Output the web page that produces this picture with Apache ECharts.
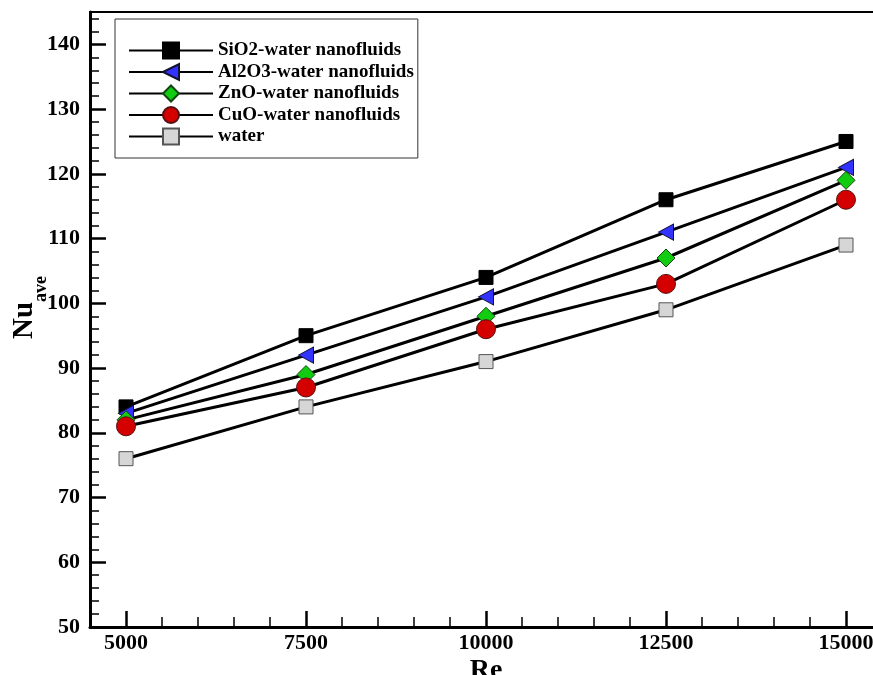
<!DOCTYPE html>
<html lang="en">

<head>
    <meta charset="UTF-8">
    <title>Nu ave vs Re</title>
    <style>
        html, body { margin: 0; padding: 0; background: #fff; }
    </style>
</head>

<body>
    <div id="main" style="width: 873px;height:675px;"></div>
    <script src="https://cdn.jsdelivr.net/npm/echarts@6/dist/echarts.min.js"></script>
    <script>
    // Reynolds numbers
    var reValues = [5000, 7500, 10000, 12500, 15000];

    var sio2 = [84, 95, 104, 116, 125];
    var al2o3 = [83, 92, 101, 111, 121];
    var zno = [82, 89, 98, 107, 119];
    var cuo = [81, 87, 96, 103, 116];
    var water = [76, 84, 91, 99, 109];

    // tick labels / tick marks
    var xMajor = [5000, 7500, 10000, 12500, 15000];
    var xMinor = [5500, 6000, 6500, 7000, 8000, 8500, 9000, 9500, 10500, 11000, 11500, 12000,
        13000, 13500, 14000, 14500];
    var yMajor = [50, 60, 70, 80, 90, 100, 110, 120, 130, 140];
    var yMinor = [52, 54, 56, 58, 62, 64, 66, 68, 72, 74, 76, 78, 82, 84, 86, 88, 92, 94, 96, 98,
        102, 104, 106, 108, 112, 114, 116, 118, 122, 124, 126, 128, 132, 134, 136, 138, 142, 144];

    var names = ['SiO2-water nanofluids', 'Al2O3-water nanofluids', 'ZnO-water nanofluids',
        'CuO-water nanofluids', 'water'];

    function pairs(ys) {
        return reValues.map(function(x, i) { return [x, ys[i]]; });
    }

    var font = 'Liberation Serif';
    var myChart = echarts.init(document.getElementById('main'));

    var lineCommon = {
        type: 'line',
        xAxisIndex: 0,
        yAxisIndex: 0,
        lineStyle: { color: '#000', width: 3 },
        emphasis: { disabled: true },
        animation: false
    };

    var option = {
        animation: false,
        grid: {
            left: 90,
            top: 12,
            width: 792,
            height: 615,
            show: true,
            borderColor: '#000',
            borderWidth: 2,
            backgroundColor: 'transparent',
            outerBoundsMode: 'none',
            containLabel: false
        },
        legend: {
            orient: 'vertical',
            left: 115,
            top: 19,
            align: 'left',
            itemWidth: 84,
            itemHeight: 20,
            itemGap: 2.5,
            padding: [22, 4, 12, 13],
            backgroundColor: '#fff',
            borderColor: '#333',
            borderWidth: 1,
            borderRadius: 0,
            data: names,
            textStyle: {
                fontFamily: font,
                fontWeight: 'bold',
                fontSize: 19,
                color: '#000'
            }
        },
        xAxis: [{
            type: 'value',
            min: 4500,
            max: 15500,
            name: 'Re',
            nameLocation: 'middle',
            nameMoveOverlap: false,
            nameGap: 30,
            nameTextStyle: {
                fontFamily: font,
                fontWeight: 'bold',
                fontSize: 28,
                color: '#000'
            },
            axisLine: { show: true, onZero: false, lineStyle: { color: '#000', width: 3 } },
            axisTick: {
                show: true,
                inside: true,
                length: 16,
                customValues: xMajor,
                lineStyle: { color: '#000', width: 2.5 }
            },
            axisLabel: {
                customValues: xMajor,
                formatter: function(v) { return String(v); },
                margin: 5,
                fontFamily: font,
                fontWeight: 'bold',
                fontSize: 22,
                color: '#000'
            },
            splitLine: { show: false }
        }, {
            type: 'value',
            min: 4500,
            max: 15500,
            position: 'bottom',
            gridIndex: 0,
            axisLine: { show: false },
            axisTick: {
                show: true,
                inside: true,
                length: 10,
                customValues: xMinor,
                lineStyle: { color: '#000', width: 1.5 }
            },
            axisLabel: { show: false },
            splitLine: { show: false }
        }],
        yAxis: [{
            type: 'value',
            min: 50,
            max: 145,
            interval: 10,
            name: '{a|Nu}{b|ave}',
            nameLocation: 'middle',
            nameMoveOverlap: false,
            nameRotate: 90,
            nameGap: 40,
            nameTextStyle: {
                rich: {
                    a: {
                        fontFamily: font,
                        fontWeight: 'bold',
                        fontSize: 29,
                        color: '#000',
                        verticalAlign: 'top',
                        padding: [0, 0, 0, 24]
                    },
                    b: {
                        fontFamily: font,
                        fontWeight: 'bold',
                        fontSize: 18,
                        color: '#000',
                        verticalAlign: 'bottom',
                        padding: [22, 0, 0, 0]
                    }
                }
            },
            axisLine: { show: true, onZero: false, lineStyle: { color: '#000', width: 3 } },
            axisTick: {
                show: true,
                inside: true,
                length: 16,
                customValues: yMajor,
                lineStyle: { color: '#000', width: 2.5 }
            },
            axisLabel: {
                customValues: yMajor,
                margin: 10,
                fontFamily: font,
                fontWeight: 'bold',
                fontSize: 22,
                color: '#000'
            },
            splitLine: { show: false }
        }, {
            type: 'value',
            min: 50,
            max: 145,
            position: 'left',
            gridIndex: 0,
            axisLine: { show: false },
            axisTick: {
                show: true,
                inside: true,
                length: 9,
                customValues: yMinor,
                lineStyle: { color: '#000', width: 1.5 }
            },
            axisLabel: { show: false },
            splitLine: { show: false }
        }],
        series: [
            Object.assign({}, lineCommon, {
                name: names[0],
                data: pairs(sio2),
                symbol: 'rect',
                symbolSize: 14,
                itemStyle: { color: '#000', borderColor: '#000', borderWidth: 1 }
            }),
            Object.assign({}, lineCommon, {
                name: names[1],
                data: pairs(al2o3),
                symbol: 'triangle',
                symbolRotate: 90,
                symbolSize: [16, 15],
                itemStyle: { color: '#3333ff', borderColor: '#111133', borderWidth: 1 }
            }),
            Object.assign({}, lineCommon, {
                name: names[2],
                data: pairs(zno),
                symbol: 'diamond',
                symbolSize: 18,
                itemStyle: { color: '#11cc11', borderColor: '#114411', borderWidth: 1 }
            }),
            Object.assign({}, lineCommon, {
                name: names[3],
                data: pairs(cuo),
                symbol: 'circle',
                symbolSize: 19,
                itemStyle: { color: '#d40000', borderColor: '#551111', borderWidth: 1 }
            }),
            Object.assign({}, lineCommon, {
                name: names[4],
                data: pairs(water),
                symbol: 'rect',
                symbolSize: 14,
                itemStyle: { color: '#d6d6d6', borderColor: '#555', borderWidth: 1 }
            })
        ]
    };

    myChart.setOption(option);
    </script>
</body>

</html>
